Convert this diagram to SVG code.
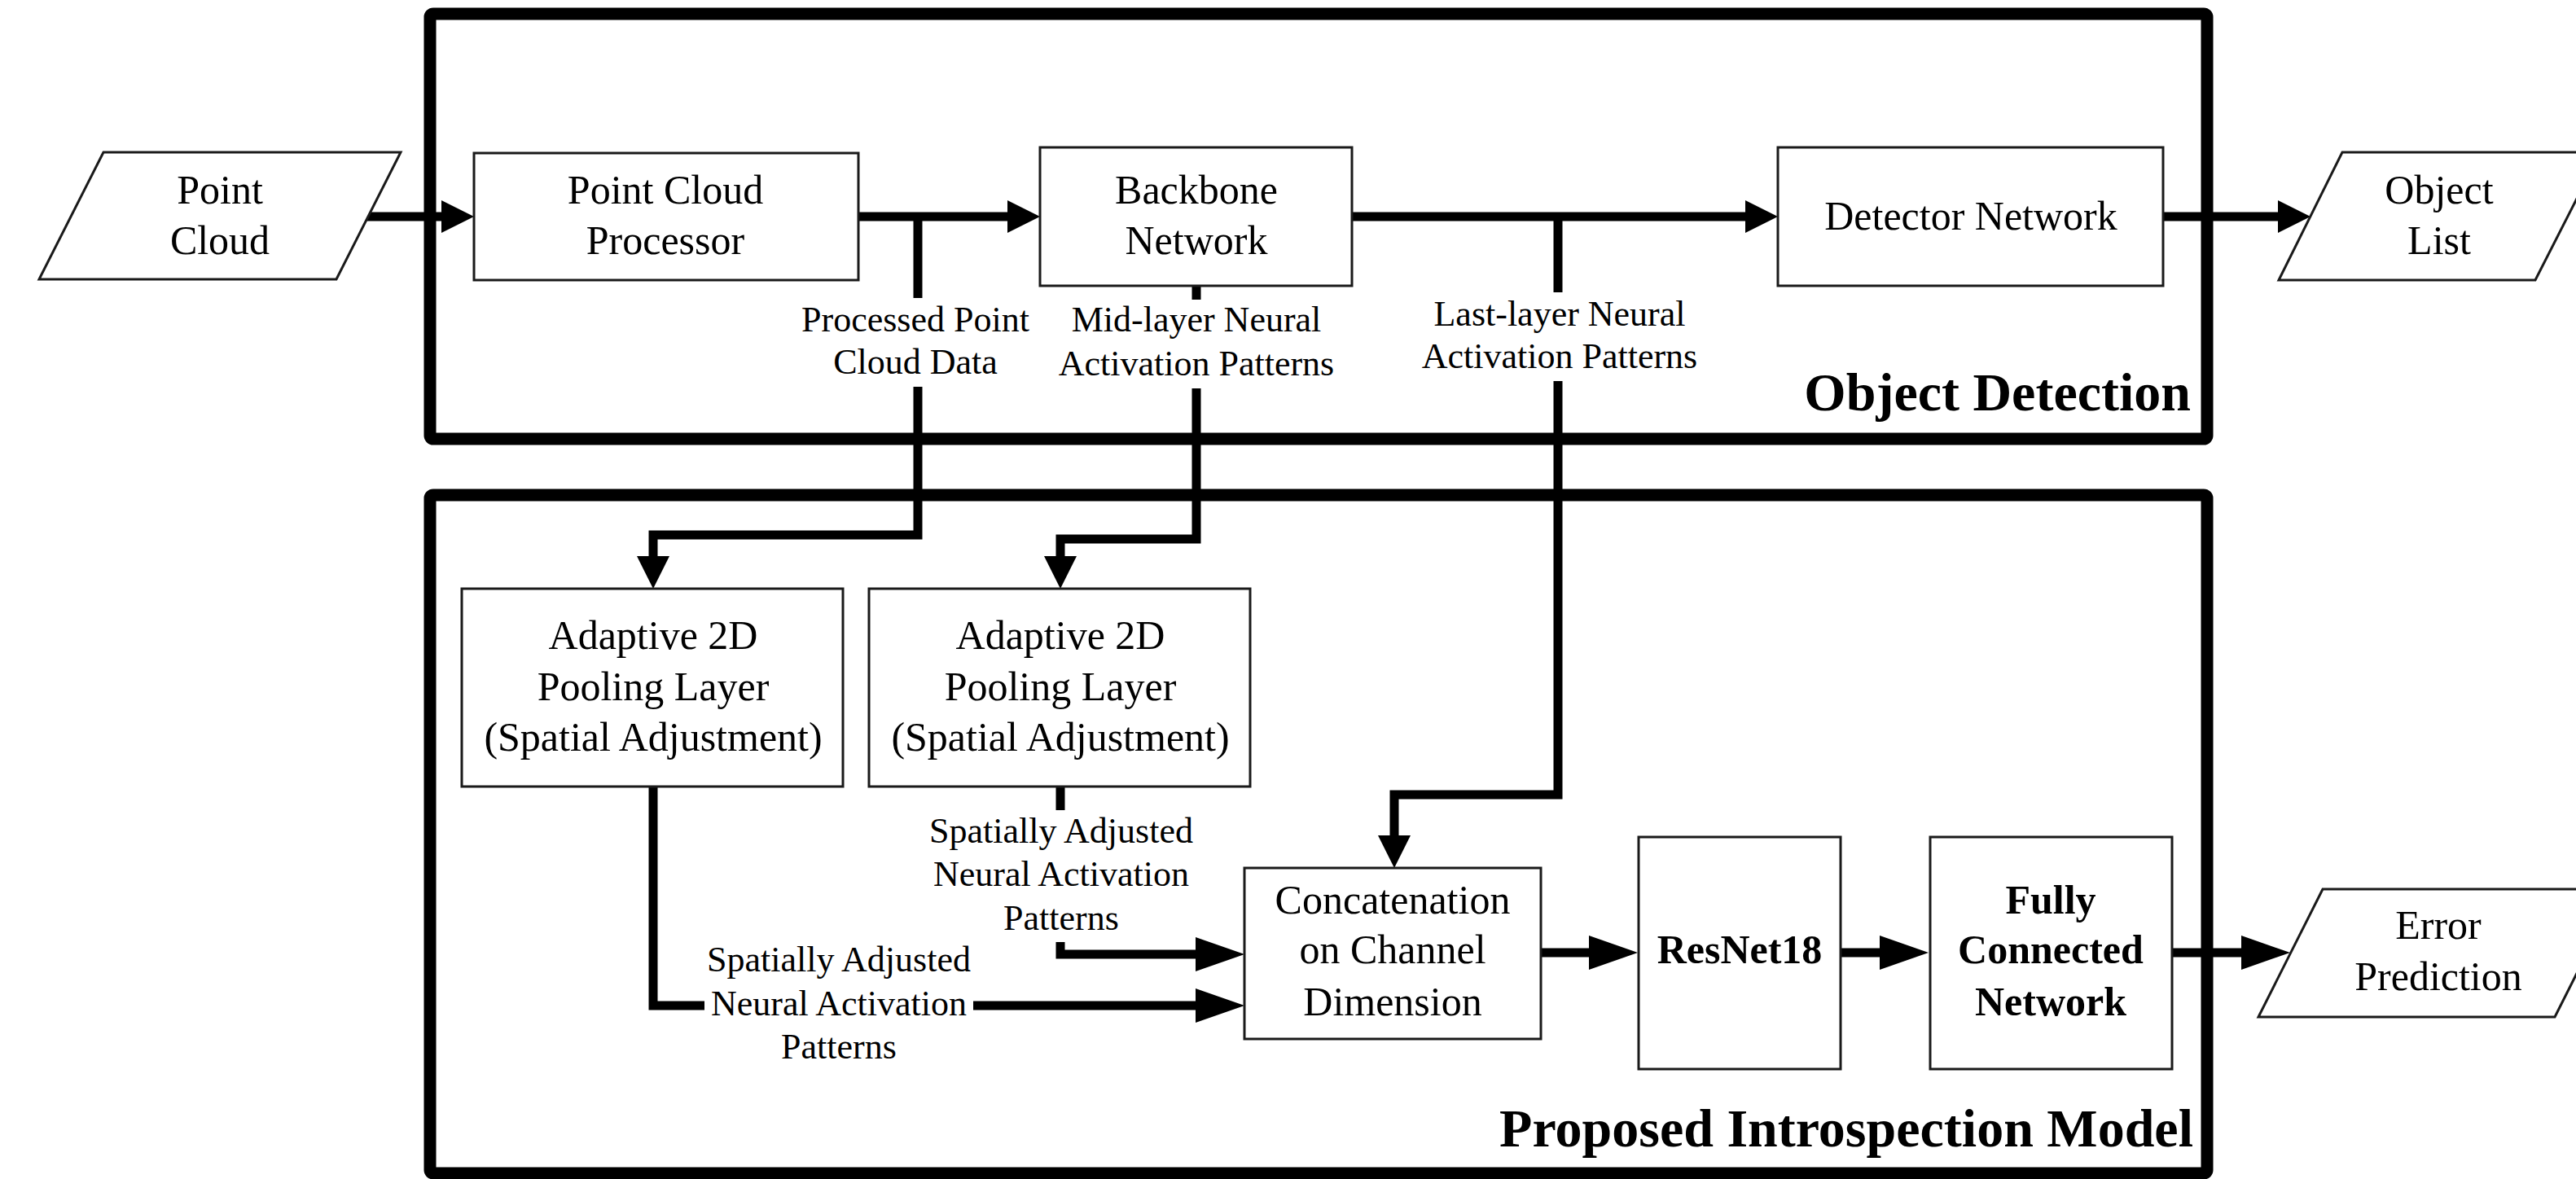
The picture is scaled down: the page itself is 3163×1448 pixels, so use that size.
<svg xmlns="http://www.w3.org/2000/svg" width="3163" height="1448" viewBox="0 0 3163 1448">
<style>
.frame{fill:none;stroke:#000;stroke-width:15;stroke-linejoin:round}
.box{fill:#fff;stroke:#1a1a1a;stroke-width:3}
.t{font-family:"Liberation Serif","Times New Roman",serif;font-size:50px;fill:#000;text-anchor:middle}
.tb{font-family:"Liberation Serif","Times New Roman",serif;font-size:50px;font-weight:bold;fill:#000;text-anchor:middle}
.lbl{font-family:"Liberation Serif","Times New Roman",serif;font-size:44px;fill:#000;text-anchor:middle}
.title{font-family:"Liberation Serif","Times New Roman",serif;font-size:66px;font-weight:bold;fill:#000;text-anchor:end}
.c{fill:none;stroke:#000;stroke-width:11;stroke-linejoin:miter}
</style>
<defs>
<marker id="ah" markerUnits="userSpaceOnUse" markerWidth="42" markerHeight="42" refX="0" refY="20" orient="auto" viewBox="0 0 42 42">
<path d="M0,0 L40,20 L0,40 Z" fill="#000"/>
</marker>
<marker id="ahl" markerUnits="userSpaceOnUse" markerWidth="62" markerHeight="44" refX="0" refY="21" orient="auto" viewBox="0 0 62 44">
<path d="M0,0 L60,21 L0,42 Z" fill="#000"/>
</marker>
</defs>
<rect width="3163" height="1448" fill="#fff"/>

<g id="frame-object-detection">
<rect class="frame" x="528" y="17" width="2182" height="522" rx="4"/>
<text class="title" x="2690" y="504">Object Detection</text>
</g>
<g id="frame-introspection">
<rect class="frame" x="528" y="608" width="2182" height="833" rx="4"/>
<text class="title" x="2693" y="1408">Proposed Introspection Model</text>
</g>

<g id="connectors">
<path class="c" d="M449,266 H542" marker-end="url(#ah)"/>
<path class="c" d="M1054,266 H1237" marker-end="url(#ah)"/>
<path class="c" d="M1660,266 H2143" marker-end="url(#ah)"/>
<path class="c" d="M2656,266 H2797" marker-end="url(#ah)"/>
<path class="c" d="M1127,266 V366"/>
<path class="c" d="M1127,475 V657 H802 V683" marker-end="url(#ah)"/>
<path class="c" d="M1469,351 V368"/>
<path class="c" d="M1469,477 V662 H1302 V683" marker-end="url(#ah)"/>
<path class="c" d="M1913,266 V359"/>
<path class="c" d="M1913,468 V976 H1712 V1026" marker-end="url(#ah)"/>
<path class="c" d="M802,966 V1235 H865"/>
<path class="c" d="M1195,1235 H1468" marker-end="url(#ahl)"/>
<path class="c" d="M1302,966 V995"/>
<path class="c" d="M1302,1157 V1172 H1468" marker-end="url(#ahl)"/>
<path class="c" d="M1892,1170 H1951" marker-end="url(#ahl)"/>
<path class="c" d="M2260,1170 H2308" marker-end="url(#ahl)"/>
<path class="c" d="M2667,1170 H2752" marker-end="url(#ahl)"/>
<text class="lbl" x="1124" y="407">Processed Point</text>
<text class="lbl" x="1124" y="459">Cloud Data</text>
<text class="lbl" x="1469" y="407">Mid-layer Neural</text>
<text class="lbl" x="1469" y="461">Activation Patterns</text>
<text class="lbl" x="1915" y="400">Last-layer Neural</text>
<text class="lbl" x="1915" y="452">Activation Patterns</text>
<text class="lbl" x="1303" y="1035">Spatially Adjusted</text>
<text class="lbl" x="1303" y="1088">Neural Activation</text>
<text class="lbl" x="1303" y="1142">Patterns</text>
<text class="lbl" x="1030" y="1193">Spatially Adjusted</text>
<text class="lbl" x="1030" y="1247">Neural Activation</text>
<text class="lbl" x="1030" y="1300">Patterns</text>
</g>

<g id="point-cloud">
<polygon class="box" points="127,187 492,187 413,343 48,343"/>
<text class="t" x="270" y="250">Point</text>
<text class="t" x="270" y="312">Cloud</text>
</g>
<g id="point-cloud-processor">
<rect class="box" x="582" y="188" width="472" height="156"/>
<text class="t" x="817" y="250">Point Cloud</text>
<text class="t" x="817" y="312">Processor</text>
</g>
<g id="backbone-network">
<rect class="box" x="1277" y="181" width="383" height="170"/>
<text class="t" x="1469" y="250">Backbone</text>
<text class="t" x="1469" y="312">Network</text>
</g>
<g id="detector-network">
<rect class="box" x="2183" y="181" width="473" height="170"/>
<text class="t" x="2420" y="282">Detector Network</text>
</g>
<g id="object-list">
<polygon class="box" points="2876,187 3193,187 3113,344 2798,344"/>
<text class="t" x="2995" y="250">Object</text>
<text class="t" x="2995" y="312">List</text>
</g>
<g id="pooling-1">
<rect class="box" x="567" y="723" width="468" height="243"/>
<text class="t" x="802" y="797">Adaptive 2D</text>
<text class="t" x="802" y="860">Pooling Layer</text>
<text class="t" x="802" y="922">(Spatial Adjustment)</text>
</g>
<g id="pooling-2">
<rect class="box" x="1067" y="723" width="468" height="243"/>
<text class="t" x="1302" y="797">Adaptive 2D</text>
<text class="t" x="1302" y="860">Pooling Layer</text>
<text class="t" x="1302" y="922">(Spatial Adjustment)</text>
</g>
<g id="concatenation">
<rect class="box" x="1528" y="1066" width="364" height="210"/>
<text class="t" x="1710" y="1122">Concatenation</text>
<text class="t" x="1710" y="1183">on Channel</text>
<text class="t" x="1710" y="1247">Dimension</text>
</g>
<g id="resnet18">
<rect class="box" x="2012" y="1028" width="248" height="285"/>
<text class="tb" x="2136" y="1183">ResNet18</text>
</g>
<g id="fully-connected">
<rect class="box" x="2370" y="1028" width="297" height="285"/>
<text class="tb" x="2518" y="1122">Fully</text>
<text class="tb" x="2518" y="1183">Connected</text>
<text class="tb" x="2518" y="1247">Network</text>
</g>
<g id="error-prediction">
<polygon class="box" points="2852,1092 3216,1092 3137,1249 2773,1249"/>
<text class="t" x="2994" y="1153">Error</text>
<text class="t" x="2994" y="1216">Prediction</text>
</g>
</svg>
